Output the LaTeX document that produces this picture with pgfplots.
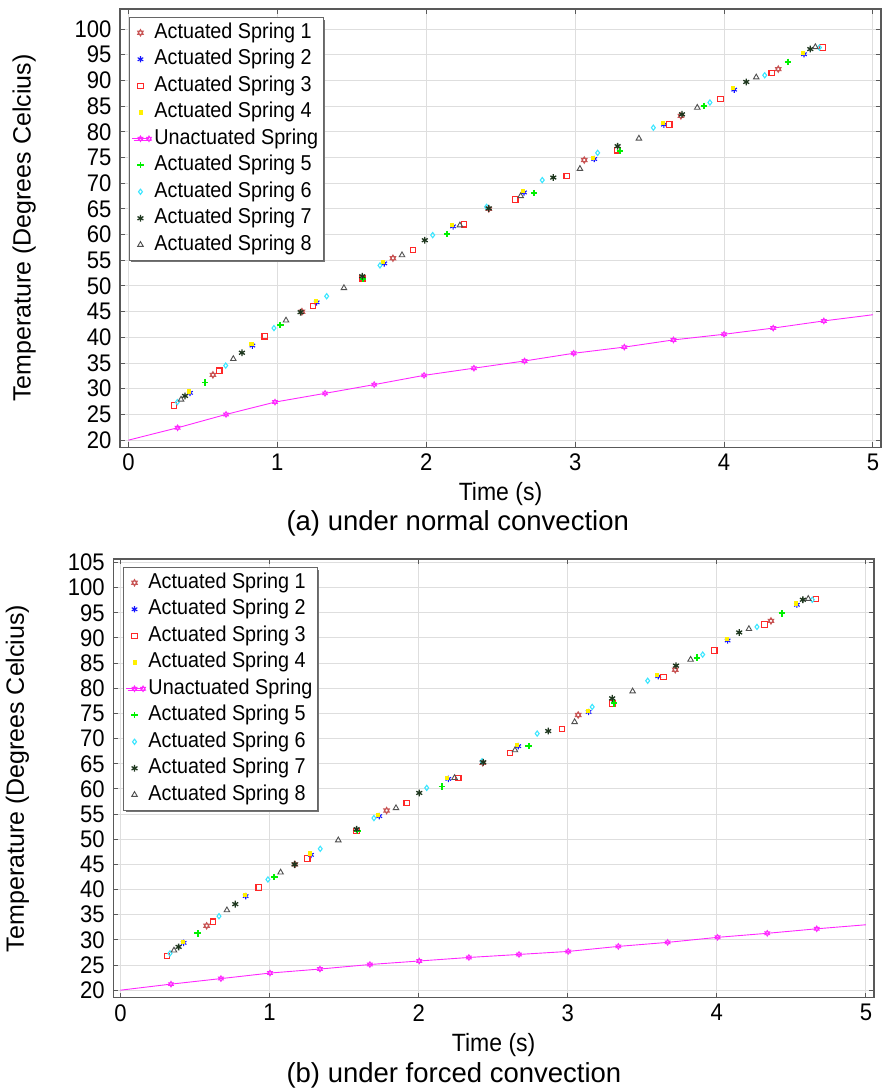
\documentclass[border=0pt]{standalone}
\usepackage{fontspec}
\setmainfont{Liberation Sans}
\newfontfamily\nar{Liberation Sans}[FakeStretch=0.92]
\usepackage{pgfplots}
\pgfplotsset{compat=1.18}
\usetikzlibrary{plotmarks,shadows}

\pgfdeclareplotmark{hexagram}{%
  \pgfpathmoveto{\pgfqpointpolar{90}{\pgfplotmarksize}}%
  \pgfpathlineto{\pgfqpointpolar{210}{\pgfplotmarksize}}%
  \pgfpathlineto{\pgfqpointpolar{330}{\pgfplotmarksize}}%
  \pgfpathclose
  \pgfpathmoveto{\pgfqpointpolar{270}{\pgfplotmarksize}}%
  \pgfpathlineto{\pgfqpointpolar{30}{\pgfplotmarksize}}%
  \pgfpathlineto{\pgfqpointpolar{150}{\pgfplotmarksize}}%
  \pgfpathclose
  \pgfusepathqstroke
}

\definecolor{cA}{RGB}{200,85,85}
\definecolor{cB}{RGB}{20,20,255}
\definecolor{cC}{RGB}{255,40,40}
\definecolor{cD}{RGB}{255,240,0}
\definecolor{cU}{RGB}{255,40,255}
\definecolor{cE}{RGB}{0,240,0}
\definecolor{cF}{RGB}{60,230,255}
\definecolor{cG}{RGB}{30,55,30}
\definecolor{cH}{RGB}{80,80,80}

\pgfplotsset{
  myaxis/.style={
    scale only axis,
    xtick={0,1,2,3,4,5},
    tick align=inside,
    major tick length=5pt,
    grid=major,
    major grid style={black!13, line width=1pt},
    axis line style={black!65, line width=1.2pt},
    every tick/.style={black!65, line width=1pt},
    ticklabel style={font=\nar\fontsize{24}{28}\selectfont},
    xticklabel style={yshift=-3pt},
    yticklabel style={xshift=-5pt},
    /pgf/number format/assume math mode=true,
    xlabel={Time (s)},
    ylabel={Temperature (Degrees Celcius)},
    xlabel style={font=\nar\fontsize{25}{30}\selectfont, yshift=-5pt},
    ylabel style={font=\fontsize{25}{30}\selectfont, at={(axis description cs:-0.126,0.5)}, anchor=center},
    legend cell align=left,
    legend style={font=\nar\fontsize{21.5}{26}\selectfont, draw=black!60, line width=1pt,
      anchor=north west, inner sep=2pt,
      nodes={inner sep=3pt, text height=15.5pt, text depth=5pt},
      drop shadow={shadow xshift=2pt, shadow yshift=-2pt, fill=black!55, opacity=1}},
  },
  s1/.style={only marks, mark=hexagram, mark size=3.2pt, cA, line width=1pt},
  s2/.style={only marks, mark=asterisk, mark size=3.2pt, cB, line width=1.1pt},
  s3/.style={only marks, mark=square, mark size=2.7pt, cC, line width=1.1pt},
  s4/.style={only marks, mark=square*, mark size=1.6pt, cD, line width=0.5pt},
  su/.style={cU, line width=0.9pt, mark=hexagram, mark size=2.8pt, mark options={line width=0.9pt}},
  s5/.style={only marks, mark=+, mark size=3.2pt, cE, line width=1.8pt},
  s6/.style={only marks, mark=diamond, mark size=2.6pt, cF, line width=1.1pt},
  s7/.style={only marks, mark=asterisk, mark size=3.4pt, cG, line width=1.3pt},
  s8/.style={only marks, mark=triangle, mark size=3.2pt, cH, line width=0.9pt},
}

\begin{document}
\begin{tikzpicture}
\path[use as bounding box] (0,0) rectangle (891pt,-1092pt);

% ---------------- (a) normal convection ----------------
\begin{axis}[myaxis,
  at={(120pt,-447.3pt)}, anchor=south west,
  width=761pt, height=438.3pt,
  xmin=-0.057, xmax=5.054, ymin=18.6, ymax=103.9,
  ytick={20,25,...,100},
  legend style={at={(0.0118,0.9817)}},
]
\addplot[s1] coordinates {(0.567,32.7) (1.165,45.0) (1.776,55.4) (2.42,65.0) (3.061,74.5) (3.71,83.1) (4.364,92.2)};
\addlegendentry{Actuated Spring 1}
\addplot[s2] coordinates {(0.413,29.2) (0.832,38.4) (1.264,46.8) (1.718,54.4) (2.18,61.6) (2.656,68.2) (3.128,74.7) (3.596,81.4) (4.068,88.2) (4.537,95.1)};
\addlegendentry{Actuated Spring 2}
\addplot[s3] coordinates {(0.306,26.75) (0.61,33.5) (0.915,40.2) (1.239,46.1) (1.57,51.5) (1.911,57.0) (2.253,62.0) (2.598,66.8) (2.943,71.4) (3.285,76.4) (3.632,81.4) (3.975,86.4) (4.32,91.4) (4.662,96.4)};
\addlegendentry{Actuated Spring 3}
\addplot[s4] coordinates {(0.405,29.5) (0.824,38.7) (1.256,47.1) (1.71,54.7) (2.172,61.9) (2.648,68.5) (3.12,75.0) (3.588,81.7) (4.06,88.5) (4.529,95.4)};
\addlegendentry{Actuated Spring 4}
\addplot[su, mark indices={2,...,15}] coordinates {(0,20.0) (0.33,22.4) (0.655,25.0) (0.984,27.4) (1.32,29.1) (1.65,30.8) (1.985,32.6) (2.32,34.0) (2.66,35.4) (2.99,36.9) (3.33,38.1) (3.66,39.5) (4.0,40.6) (4.33,41.8) (4.67,43.2) (5.0,44.4)};
\addlegendentry{Unactuated Spring}
\addplot[s5] coordinates {(0.514,31.2) (1.02,42.4) (1.575,51.4) (2.14,60.1) (2.725,68.1) (3.30,76.3) (3.865,85.0) (4.43,93.6)};
\addlegendentry{Actuated Spring 5}
\addplot[s6] coordinates {(0.328,27.4) (0.653,34.5) (0.977,41.8) (1.331,48.0) (1.689,54.0) (2.043,59.9) (2.405,65.4) (2.779,70.6) (3.151,75.9) (3.525,80.8) (3.905,85.7) (4.273,91.0) (4.64,96.4)};
\addlegendentry{Actuated Spring 6}
\addplot[s7] coordinates {(0.38,28.6) (0.762,37.0) (1.156,44.9) (1.57,51.9) (1.99,58.9) (2.419,65.1) (2.853,71.1) (3.285,77.2) (3.717,83.4) (4.149,89.7) (4.579,96.1)};
\addlegendentry{Actuated Spring 7}
\addplot[s8] coordinates {(0.353,27.9) (0.704,35.8) (1.058,43.3) (1.447,49.6) (1.837,56.0) (2.226,61.8) (2.634,67.5) (3.032,72.8) (3.428,78.7) (3.82,84.7) (4.216,90.6) (4.613,96.5)};
\addlegendentry{Actuated Spring 8}
\end{axis}

% ---------------- (b) forced convection ----------------
\begin{axis}[myaxis,
  at={(113.3pt,-997.7pt)}, anchor=south west,
  width=760.7pt, height=438.7pt,
  xmin=-0.048, xmax=5.054, ymin=18.5, ymax=105.7,
  ytick={20,25,...,105},
  legend style={at={(0.0128,0.9817)}},
]
\addplot[s1] coordinates {(0.578,32.8) (1.17,45.0) (1.785,55.7) (2.43,65.2) (3.07,74.7) (3.721,83.7) (4.363,93.4)};
\addlegendentry{Actuated Spring 1}
\addplot[s2] coordinates {(0.424,29.4) (0.84,38.7) (1.278,46.9) (1.736,54.6) (2.199,62.0) (2.668,68.5) (3.14,75.3) (3.607,82.4) (4.072,89.5) (4.537,96.6)};
\addlegendentry{Actuated Spring 2}
\addplot[s3] coordinates {(0.312,26.8) (0.62,33.6) (0.927,40.4) (1.253,46.2) (1.584,51.6) (1.92,57.2) (2.266,62.2) (2.612,67.1) (2.963,71.9) (3.30,77.0) (3.643,82.2) (3.983,87.5) (4.32,92.7) (4.665,97.8)};
\addlegendentry{Actuated Spring 3}
\addplot[s4] coordinates {(0.416,29.7) (0.832,39.0) (1.27,47.2) (1.728,54.9) (2.191,62.3) (2.66,68.8) (3.132,75.6) (3.599,82.7) (4.064,89.8) (4.529,96.9)};
\addlegendentry{Actuated Spring 4}
\addplot[su, mark indices={2,...,15}] coordinates {(0,20.0) (0.339,21.2) (0.674,22.3) (1.003,23.4) (1.338,24.2) (1.673,25.1) (2.004,25.8) (2.337,26.5) (2.673,27.1) (3.003,27.7) (3.339,28.7) (3.67,29.5) (4.005,30.5) (4.338,31.3) (4.67,32.2) (5.0,33.0)};
\addlegendentry{Unactuated Spring}
\addplot[s5] coordinates {(0.518,31.3) (1.032,42.5) (1.59,51.6) (2.156,60.5) (2.738,68.5) (3.31,77.0) (3.867,86.1) (4.435,94.9)};
\addlegendentry{Actuated Spring 5}
\addplot[s6] coordinates {(0.332,27.3) (0.661,34.7) (0.989,42.0) (1.34,48.1) (1.70,54.2) (2.054,60.2) (2.425,65.5) (2.795,71.0) (3.164,76.3) (3.536,81.5) (3.905,86.7) (4.269,92.2) (4.64,97.6)};
\addlegendentry{Actuated Spring 6}
\addplot[s7] coordinates {(0.39,28.6) (0.77,37.1) (1.168,45.0) (1.584,52.0) (2.004,59.2) (2.433,65.3) (2.869,71.5) (3.298,78.0) (3.726,84.5) (4.15,91.1) (4.577,97.6)};
\addlegendentry{Actuated Spring 7}
\addplot[s8] coordinates {(0.359,27.9) (0.714,35.9) (1.074,43.4) (1.461,49.8) (1.848,56.2) (2.241,62.2) (2.646,67.7) (3.046,73.3) (3.435,79.4) (3.824,85.7) (4.215,91.8) (4.613,97.8)};
\addlegendentry{Actuated Spring 8}
\end{axis}

\node[anchor=west, font=\fontsize{27.5}{32}\selectfont] at (283pt,-523pt) {(a) under normal convection};
\node[anchor=west, font=\fontsize{27.5}{32}\selectfont] at (283pt,-1075pt) {(b) under forced convection};
\end{tikzpicture}
\end{document}
